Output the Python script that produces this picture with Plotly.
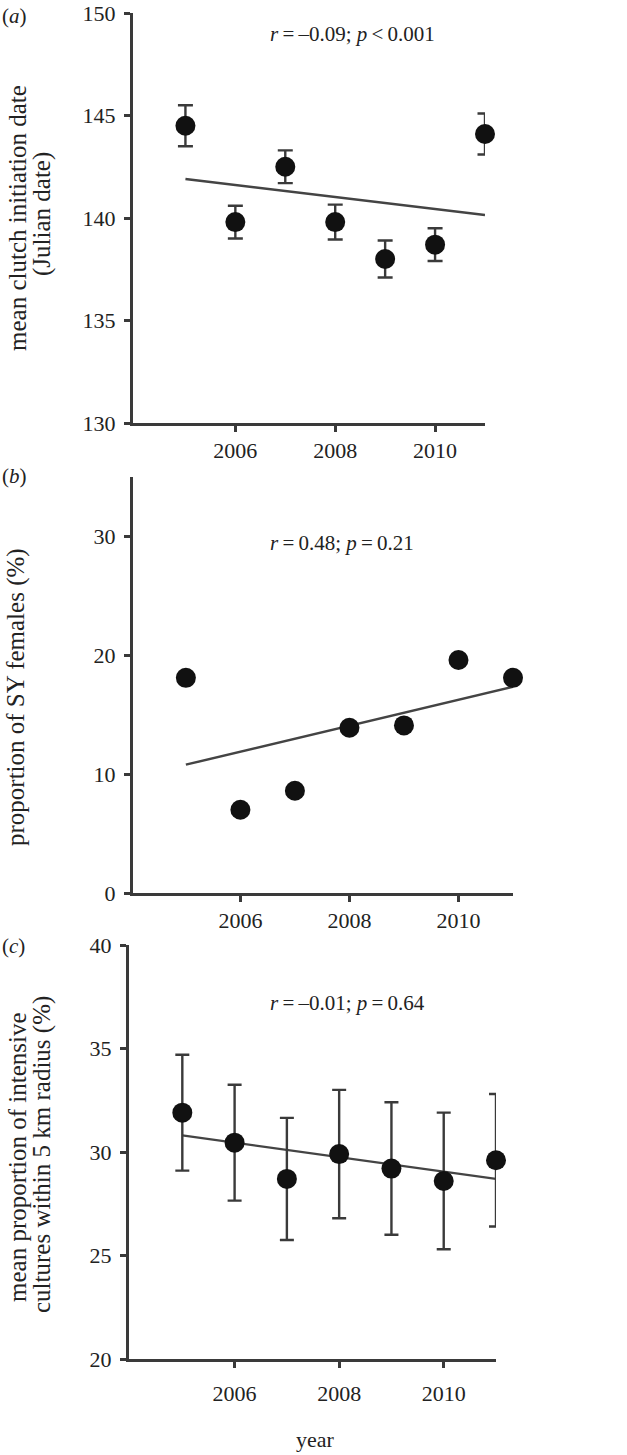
import plotly.graph_objects as go

# ---------------- data ----------------
years = [2005, 2006, 2007, 2008, 2009, 2010, 2011]
trend_years = [2005, 2011]

clutch_mean = [144.5, 139.8, 142.5, 139.8, 138.0, 138.7, 144.1]
clutch_err = [1.0, 0.8, 0.8, 0.85, 0.9, 0.8, 1.0]
clutch_trend = [141.9, 140.15]

sy_prop = [18.1, 7.0, 8.6, 13.9, 14.1, 19.6, 18.1]
sy_trend = [10.8, 17.35]

intensive_mean = [31.9, 30.45, 28.7, 29.9, 29.2, 28.6, 29.6]
intensive_err = [2.8, 2.8, 2.95, 3.1, 3.2, 3.3, 3.2]
intensive_trend = [30.8, 28.7]

x_ticks = [2006, 2008, 2010]
a_yticks = [130, 135, 140, 145, 150]
b_yticks = [0, 10, 20, 30]
c_yticks = [20, 25, 30, 35, 40]

TS = "\u2009"  # thin space
stats_text = [
    f"<i>r</i>{TS}={TS}–0.09; <i>p</i>{TS}&lt;{TS}0.001",
    f"<i>r</i>{TS}={TS}0.48; <i>p</i>{TS}={TS}0.21",
    f"<i>r</i>{TS}={TS}–0.01; <i>p</i>{TS}={TS}0.64",
]

# ---------------- style ----------------
W, H = 627, 1455
FONT = "Liberation Serif"
AX = "#3a3a3a"
DOT = "#111111"
TXT = "#222222"


def px(x):
    return x / W


def py(y):
    return 1 - y / H


fig = go.Figure()

# panel a
fig.add_trace(go.Scatter(x=trend_years, y=clutch_trend, mode="lines",
                         line=dict(color="#444444", width=2.5),
                         xaxis="x", yaxis="y", showlegend=False))
fig.add_trace(go.Scatter(x=years, y=clutch_mean, mode="markers",
                         marker=dict(size=20, color=DOT),
                         error_y=dict(type="data", array=clutch_err, color=AX,
                                      thickness=2.4, width=7.5),
                         xaxis="x", yaxis="y", showlegend=False, cliponaxis=False))

# panel b
fig.add_trace(go.Scatter(x=trend_years, y=sy_trend, mode="lines",
                         line=dict(color="#444444", width=2.5),
                         xaxis="x2", yaxis="y2", showlegend=False))
fig.add_trace(go.Scatter(x=years, y=sy_prop, mode="markers",
                         marker=dict(size=20, color=DOT),
                         xaxis="x2", yaxis="y2", showlegend=False, cliponaxis=False))

# panel c
fig.add_trace(go.Scatter(x=trend_years, y=intensive_trend, mode="lines",
                         line=dict(color="#444444", width=2.2),
                         xaxis="x3", yaxis="y3", showlegend=False))
fig.add_trace(go.Scatter(x=years, y=intensive_mean, mode="markers",
                         marker=dict(size=20, color=DOT),
                         error_y=dict(type="data", array=intensive_err, color=AX,
                                      thickness=2.4, width=7),
                         xaxis="x3", yaxis="y3", showlegend=False, cliponaxis=False))

tickfont = dict(family=FONT, size=22, color=TXT)


def xax(domain, rng, anchor, standoff):
    return dict(domain=domain, range=rng, anchor=anchor, showgrid=False,
                zeroline=False, showline=True, linecolor=AX, linewidth=3,
                ticks="outside", ticklen=6, tickwidth=2.5, tickcolor=AX,
                tickvals=x_ticks, ticktext=[str(v) for v in x_ticks],
                tickfont=tickfont, ticklabelstandoff=standoff,
                ticklabeloverflow="allow")


def yax(domain, rng, anchor, tv):
    return dict(domain=domain, range=rng, anchor=anchor, showgrid=False,
                zeroline=False, showline=True, linecolor=AX, linewidth=3,
                ticks="outside", ticklen=6, tickwidth=2.5, tickcolor=AX,
                tickvals=tv, ticktext=[str(v) for v in tv],
                tickfont=tickfont, ticklabelstandoff=4,
                ticklabeloverflow="allow")


fig.update_layout(
    width=W, height=H,
    margin=dict(l=0, r=0, t=0, b=0, autoexpand=False),
    paper_bgcolor="white", plot_bgcolor="white",
    font=dict(family=FONT, color=TXT),
    xaxis=xax([px(133), px(485)], [2003.95, 2011.0], "y", 0),
    yaxis=yax([py(423), py(13)], [130, 150], "x", a_yticks),
    xaxis2=xax([px(133), px(513)], [2004.03, 2011.0], "y2", 0),
    yaxis2=yax([py(893), py(477)], [0, 35], "x2", b_yticks),
    xaxis3=xax([px(129), px(496)], [2003.98, 2011.0], "y3", 7),
    yaxis3=yax([py(1359), py(945)], [20, 40], "x3", c_yticks),
)

ann = []


def txt(x, y, t, size=21, angle=0, xanchor="center"):
    ann.append(dict(x=px(x), y=py(y), xref="paper", yref="paper", text=t,
                    showarrow=False, textangle=angle, xanchor=xanchor,
                    yanchor="middle", font=dict(family=FONT, size=size, color=TXT)))


# stats
txt(352, 34, stats_text[0], size=21)
txt(342, 543, stats_text[1], size=21)
txt(347, 1003, stats_text[2], size=21)

# panel labels
txt(0, 16, "(<i>a</i>)", size=21, xanchor="left")
txt(0, 476, "(<i>b</i>)", size=21, xanchor="left")
txt(0, 946, "(<i>c</i>)", size=21, xanchor="left")

# y titles
txt(17, 218, "mean clutch initiation date", size=25, angle=-90)
txt(42, 214, "(Julian date)", size=25, angle=-90)
txt(16, 697, "proportion of SY females (%)", size=25, angle=-90)
txt(17, 1157, "mean proportion of intensive", size=25, angle=-90)
txt(42, 1155, "cultures within 5 km radius (%)", size=25, angle=-90)

# x title
txt(315, 1439, "year", size=22)

fig.update_layout(annotations=ann)

fig.write_html(
    "out.html",
    config={"displayModeBar": False},
    post_script="document.body.style.margin='0px';document.body.style.padding='0px';",
)
